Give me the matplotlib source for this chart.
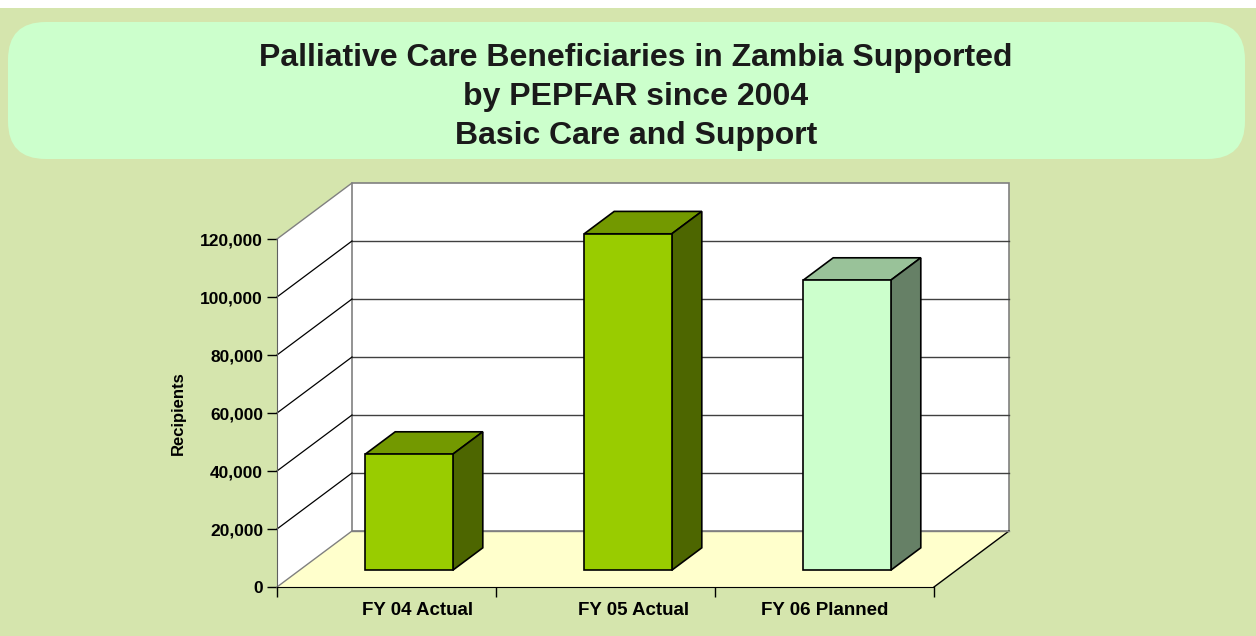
import numpy as np
import matplotlib
matplotlib.use("Agg")
import matplotlib.pyplot as plt
from matplotlib.patches import Polygon, FancyBboxPatch
from matplotlib.transforms import ScaledTranslation

categories = ["FY 04 Actual", "FY 05 Actual", "FY 06 Planned"]
recipients = [40000, 116000, 100000]
ytick_values = [0, 20000, 40000, 60000, 80000, 100000, 120000]
# label positions along the category axis (as drawn in the original)
label_pos = [0.64, 1.63, 2.50]

front_cols = ["#99CC00", "#99CC00", "#CCFFCC"]
top_cols = ["#739900", "#739900", "#99C299"]
side_cols = ["#4D6600", "#4D6600", "#668066"]

plt.rcParams["font.family"] = ["Liberation Sans", "DejaVu Sans"]
plt.rcParams["font.weight"] = "bold"

DPI = 100
fig = plt.figure(figsize=(12.56, 6.36), dpi=DPI, facecolor="white")
W, H = 1256, 636

# page background and title box
fig.patches.append(plt.Rectangle((0, 0), 1, (H - 8) / H, transform=fig.transFigure,
                                 facecolor="#D5E5AD", edgecolor="none", zorder=-3))
fig.patches.append(FancyBboxPatch((8 / W, (H - 159) / H), (1245 - 8) / W, 137 / H,
                                  boxstyle="round,pad=0,rounding_size=0.03",
                                  mutation_aspect=W / H,
                                  transform=fig.transFigure, facecolor="#CCFFCC",
                                  edgecolor="none", zorder=-2))
fig.text(636 / W, (H - 97) / H,
         "Palliative Care Beneficiaries in Zambia Supported\nby PEPFAR since 2004\nBasic Care and Support",
         ha="center", va="center", fontsize=23, fontweight="bold", color="#1a1a1a",
         linespacing=1.38)

# front plane of the 3-D plot
x0, x1, y0, y1 = 277, 934, 587, 239
ax = fig.add_axes([x0 / W, (H - y0) / H, (x1 - x0) / W, (y0 - y1) / H])
ax.set_xlim(0, 3)
ax.set_ylim(0, 120000)
ax.patch.set_visible(False)
for s in ["top", "right"]:
    ax.spines[s].set_visible(False)
ax.spines["left"].set_color("#606060")
ax.spines["bottom"].set_color("#000000")
ax.spines["left"].set_zorder(20)
ax.spines["bottom"].set_zorder(20)

DX, DY = 75, 56  # depth offset in pixels


def depth(d):
    return ax.transData + ScaledTranslation(DX * d / DPI, DY * d / DPI, fig.dpi_scale_trans)


def proj(x, y, d):
    px, py = ax.transData.transform((x, y))
    return (px + DX * d, py + DY * d)


def face(pts, **kw):
    p = Polygon([proj(*q) for q in pts], closed=True, transform=None, clip_on=False, **kw)
    ax.add_artist(p)


ymax = ytick_values[-1]
# floor, left wall, back wall
face([(0, 0, 0), (3, 0, 0), (3, 0, 1), (0, 0, 1)], facecolor="#FFFFCC", edgecolor="none", zorder=1)
face([(0, 0, 0), (0, ymax, 0), (0, ymax, 1), (0, 0, 1)], facecolor="white", edgecolor="none", zorder=1)
face([(0, 0, 1), (3, 0, 1), (3, ymax, 1), (0, ymax, 1)], facecolor="white", edgecolor="#808080", lw=1.2, zorder=2)

for v in ytick_values[1:-1]:
    ax.plot([0, 3], [v, v], color="#404040", lw=1, transform=depth(1), clip_on=False, zorder=3)
    a, b = proj(0, v, 0), proj(0, v, 1)
    ax.plot([a[0], b[0]], [a[1], b[1]], color="black", lw=0.9, transform=None, clip_on=False, zorder=3)
# wall edges
for (p, q, c) in [((0, ymax, 0), (0, ymax, 1), "#808080"), ((0, 0, 0), (0, 0, 1), "#808080"),
                  ((3, 0, 0), (3, 0, 1), "black"), ((0, 0, 1), (3, 0, 1), "#808080")]:
    a, b = proj(*p), proj(*q)
    ax.plot([a[0], b[0]], [a[1], b[1]], color=c, lw=1, transform=None, clip_on=False, zorder=4)

# bars
bw, d0, d1 = 0.4, 0.3, 0.7
centers = np.arange(len(categories)) + 0.5
for i, (c, v) in enumerate(zip(centers, recipients)):
    l, r = c - bw / 2, c + bw / 2
    face([(l, v, d0), (r, v, d0), (r, v, d1), (l, v, d1)], facecolor=top_cols[i],
         edgecolor="black", lw=1.2, zorder=5)
    face([(r, 0, d0), (r, v, d0), (r, v, d1), (r, 0, d1)], facecolor=side_cols[i],
         edgecolor="black", lw=1.2, zorder=5)
ax.bar(centers, recipients, width=bw, color=front_cols, edgecolor="black", linewidth=1.2,
       transform=depth(d0), clip_on=False, zorder=6)

ax.set_yticks(ytick_values)
ax.set_yticklabels([f"{v:,}" for v in ytick_values], fontsize=12.5, fontweight="bold")
ax.set_xticks([0, 1, 2, 3])
ax.set_xticklabels([])
ax.set_xticks(label_pos, minor=True)
ax.set_xticklabels(categories, minor=True, fontsize=13.5, fontweight="bold")
ax.tick_params(axis="y", length=7, width=1, color="black", pad=3)
ax.tick_params(axis="x", which="major", length=7, width=1, color="black")
ax.tick_params(axis="x", which="minor", length=0, pad=11)
ax.set_ylabel("Recipients", fontsize=12, fontweight="bold", labelpad=10)

fig.savefig("out.png", dpi=DPI, facecolor=fig.get_facecolor())
